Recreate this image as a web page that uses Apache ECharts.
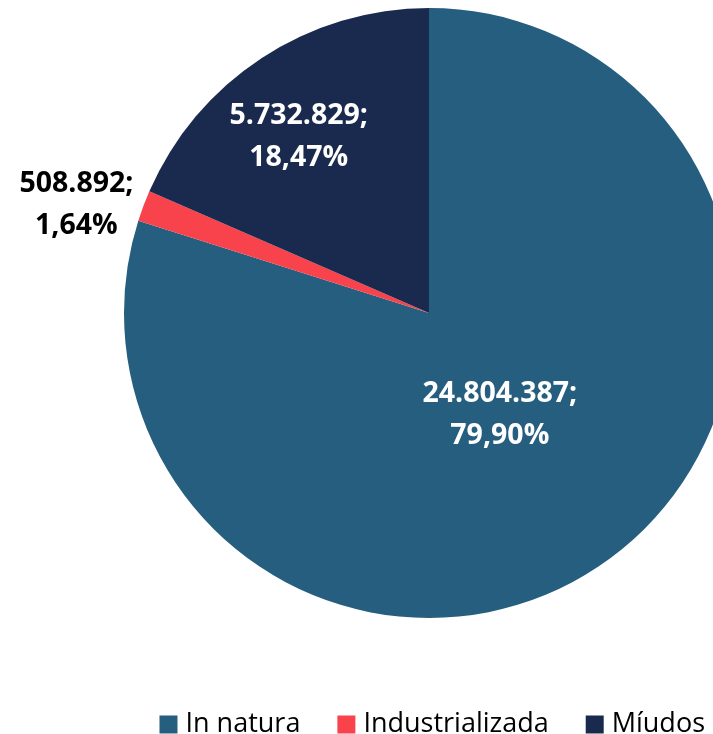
<!DOCTYPE html>
<html>
<head>
<meta charset="utf-8">
<script src="https://cdn.jsdelivr.net/npm/echarts@6/dist/echarts.min.js"></script>
<style>
html,body{margin:0;padding:0;background:#fff;}
#c{width:713px;height:734px;}
</style>
</head>
<body>
<div id="c"></div>
<script>
var categories = ['In natura', 'Industrializada', 'Míudos'];
var values = [24804387, 508892, 5732829];
var percents = ['79,90%', '1,64%', '18,47%'];
var colors = ['#255E7E', '#F8434C', '#1A2A4E'];
var labelColors = ['#ffffff', '#000000', '#ffffff'];
var labelOffsets = [[-21, -24], [-207, -53], [-45, -46]];

function fmtNum(v) {
  return String(v).replace(/\B(?=(\d{3})+(?!\d))/g, '.');
}

var chart = echarts.init(document.getElementById('c'));
chart.setOption({
  animation: false,
  legend: {
    data: categories,
    right: 3,
    top: 706,
    icon: 'rect',
    itemWidth: 18,
    itemHeight: 18,
    itemGap: 37,
    textStyle: { fontFamily: 'Open Sans', fontSize: 27, color: '#000', padding: [0, 0, 0, 3] }
  },
  series: [{
    type: 'pie',
    center: [429, 313],
    radius: [0, 305],
    startAngle: 90,
    clockwise: true,
    avoidLabelOverlap: false,
    itemStyle: { borderWidth: 0 },
    emphasis: { disabled: true },
    labelLine: { show: false },
    data: categories.map(function (c, i) {
      return {
        name: c,
        value: values[i],
        itemStyle: { color: colors[i] },
        label: {
          show: true,
          position: 'inside',
          offset: labelOffsets[i],
          color: labelColors[i],
          fontFamily: 'Open Sans',
          fontWeight: 'bold',
          fontSize: 28.5,
          lineHeight: 42,
          formatter: function () {
            return fmtNum(values[i]) + ';\n' + percents[i];
          }
        }
      };
    })
  }]
});
</script>
</body>
</html>
